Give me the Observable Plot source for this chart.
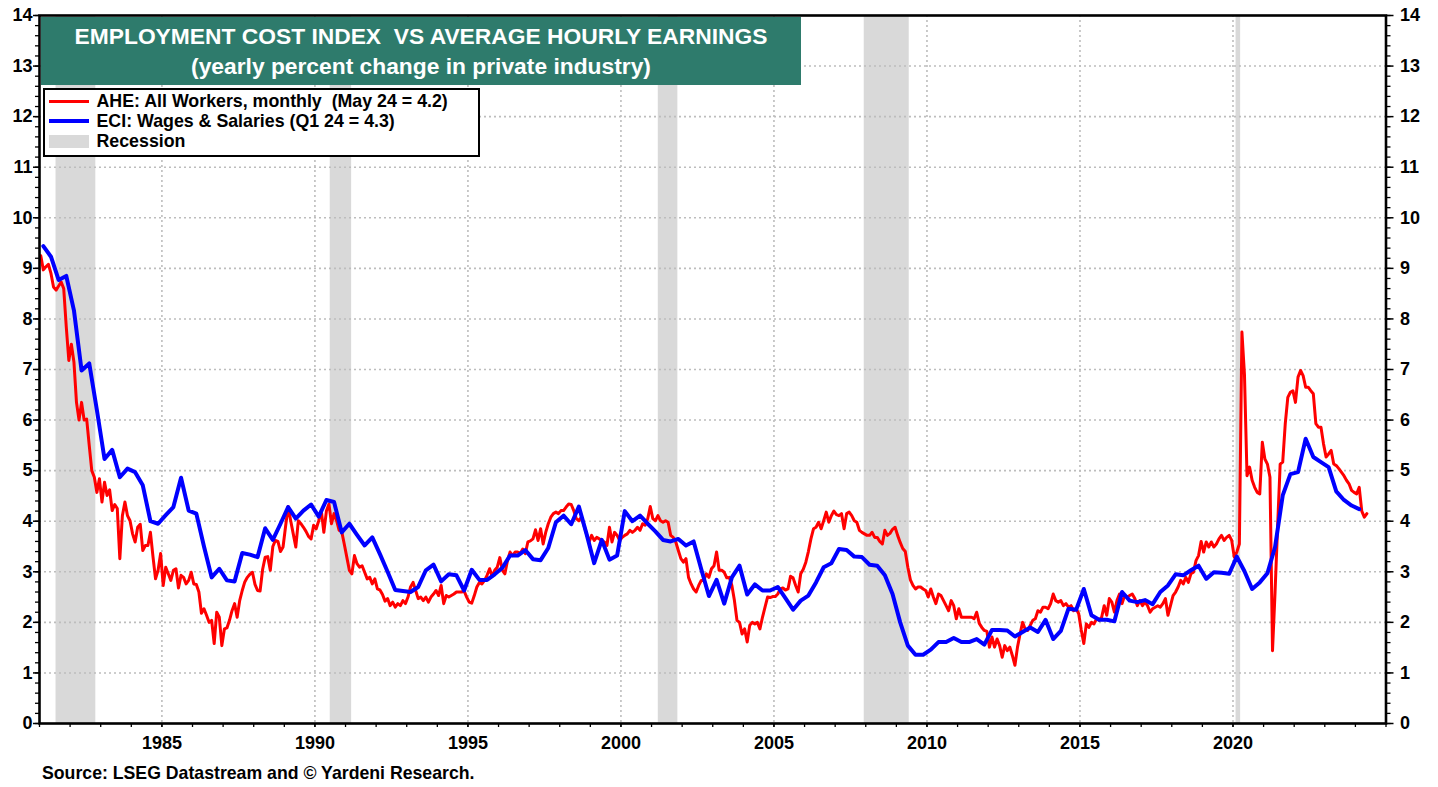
<!DOCTYPE html>
<html>
<head>
<meta charset="utf-8">
<script src="https://cdn.jsdelivr.net/npm/d3@7"></script>
<script src="https://cdn.jsdelivr.net/npm/@observablehq/plot@0.6"></script>
<style>
  html, body { margin: 0; padding: 0; background: #fff; }
  body { font-family: "Liberation Sans", Arial, sans-serif; font-weight: bold; color: #000; }
  #wrap { position: relative; width: 1438px; height: 787px; overflow: hidden; }
  #chart svg { display: block; }
  #titlebox { position: absolute; left: 41px; top: 17px; width: 760px; height: 68px; background: #2e7b6c; }
  .tl { position: absolute; left: 0; width: 760px; text-align: center; color: #fff; font-size: 22.8px; line-height: 26px; white-space: pre; }
  #legend { position: absolute; left: 43px; top: 88px; width: 433px; height: 65px; background: #fff; border: 2px solid #000; }
  .lt { position: absolute; left: 51.5px; font-size: 17.8px; line-height: 20px; white-space: pre; }
  .sw { position: absolute; left: 4px; width: 40px; }
  #caption { position: absolute; left: 42px; top: 762.5px; font-size: 17.7px; line-height: 20px; white-space: pre; }
</style>
</head>
<body>
<div id="wrap">
  <div id="chart"></div>
  <div id="titlebox">
    <div class="tl" style="top:6px">EMPLOYMENT COST INDEX  VS AVERAGE HOURLY EARNINGS</div>
    <div class="tl" style="top:36px">(yearly percent change in private industry)</div>
  </div>
  <div id="legend">
    <div class="sw" style="top:10px;height:3px;background:#ff0000"></div>
    <div class="lt" style="top:1px">AHE: All Workers, monthly  (May 24 = 4.2)</div>
    <div class="sw" style="top:29px;height:4px;background:#0000ff"></div>
    <div class="lt" style="top:21px">ECI: Wages &amp; Salaries (Q1 24 = 4.3)</div>
    <div class="sw" style="top:45px;height:13px;background:#d9d9d9"></div>
    <div class="lt" style="top:41px">Recession</div>
  </div>
  <div id="caption">Source: LSEG Datastream and © Yardeni Research.</div>
</div>
<script>
// ---------- DATA ----------
// Average hourly earnings, all workers, private: yearly % change, monthly from Jan 1981
const ahe1980s = [
  9.25, 8.97, 9.03, 9.08, 8.9, 8.63, 8.57, 8.65, 8.73, 8.6, 7.84, 7.18,   // 1981
  7.5, 7.15, 6.35, 6.0, 6.35, 6.0, 6.02, 5.5, 5.0, 4.87, 4.57, 4.84,      // 1982
  4.38, 4.77, 4.51, 4.62, 4.21, 4.33, 4.25, 3.26, 4.11, 4.38, 4.11, 4.01, // 1983
  3.75, 3.59, 3.88, 3.94, 3.42, 3.52, 3.52, 3.78, 3.3, 2.86, 3.03, 3.36,  // 1984
  2.73, 3.09, 2.96, 2.83, 3.03, 3.06, 2.68, 2.93, 2.89, 2.76, 2.83, 2.99, // 1985
  2.76, 2.75, 2.60, 2.18, 2.27, 2.14, 2.0, 2.04, 1.58, 2.2, 2.1, 1.54,    // 1986
  1.87, 1.89, 2.04, 2.23, 2.37, 2.1, 2.43, 2.63, 2.8, 2.89, 2.95, 2.99,   // 1987
  2.75, 2.63, 2.62, 3.05, 3.29, 3.3, 3.03, 3.5, 3.62, 3.6, 3.4, 3.49,     // 1988
  3.9, 4.29, 4.01, 3.75, 3.49, 4.01, 3.95, 3.88, 3.8, 3.7, 3.65, 3.92     // 1989
];
const ahe1990s = [
  3.85, 4.01, 4.21, 3.78, 4.2, 4.34, 3.95, 4.15, 4.01, 3.82, 3.8, 3.55,   // 1990
  3.29, 3.03, 2.96, 3.32, 3.16, 3.09, 3.12, 2.99, 2.86, 2.89, 2.76, 2.86, // 1991
  2.66, 2.64, 2.55, 2.42, 2.47, 2.33, 2.40, 2.3, 2.37, 2.33, 2.43, 2.37,  // 1992
  2.50, 2.7, 2.79, 2.63, 2.47, 2.50, 2.43, 2.50, 2.40, 2.50, 2.56, 2.63,  // 1993
  2.53, 2.73, 2.37, 2.53, 2.50, 2.53, 2.56, 2.60, 2.60, 2.60, 2.62, 2.50, // 1994
  2.40, 2.38, 2.53, 2.70, 2.79, 2.76, 2.83, 2.93, 3.06, 2.91, 3.03, 3.09, // 1995
  3.28, 3.03, 2.96, 3.22, 3.39, 3.32, 3.39, 3.39, 3.36, 3.45, 3.36, 3.59, // 1996
  3.61, 3.65, 3.83, 3.62, 3.85, 3.55, 3.78, 3.95, 4.08, 4.15, 4.18, 4.15, // 1997
  4.21, 4.21, 4.28, 4.34, 4.33, 4.21, 4.05, 4.01, 4.08, 3.92, 3.75, 3.59, // 1998
  3.72, 3.62, 3.68, 3.65, 3.62, 3.59, 3.52, 3.88, 3.59, 3.78, 3.72, 3.62  // 1999
];
const ahe2000s = [
  3.68, 3.72, 3.75, 3.82, 3.78, 3.82, 3.88, 3.82, 3.95, 3.92, 4.05, 4.29, // 2000
  4.05, 4.01, 4.11, 4.01, 3.98, 4.01, 3.98, 3.72, 3.68, 3.59, 3.42, 3.26, // 2001
  3.19, 3.26, 2.89, 2.76, 2.66, 2.60, 2.73, 2.83, 2.83, 2.96, 2.89, 3.06, // 2002
  3.12, 3.39, 3.03, 3.03, 2.99, 2.88, 2.89, 2.73, 2.43, 2.04, 2.0, 1.77,  // 2003
  1.87, 1.61, 1.94, 2.0, 1.97, 2.0, 1.87, 2.10, 2.30, 2.50, 2.49, 2.51,   // 2004
  2.51, 2.56, 2.66, 2.68, 2.64, 2.66, 2.91, 2.88, 2.73, 2.6, 2.96, 3.05,  // 2005
  3.19, 3.4, 3.65, 3.85, 3.88, 3.98, 3.85, 4.01, 4.18, 3.98, 4.11, 4.20,  // 2006
  4.13, 4.11, 4.15, 3.85, 4.15, 4.18, 4.11, 4.01, 3.98, 3.82, 3.78, 3.75, // 2007
  3.72, 3.72, 3.78, 3.68, 3.68, 3.6, 3.55, 3.82, 3.72, 3.76, 3.84, 3.88,  // 2008
  3.72, 3.58, 3.46, 3.4, 3.09, 2.84, 2.73, 2.66, 2.70, 2.70, 2.66, 2.63   // 2009
];
const ahe2010s = [
  2.50, 2.66, 2.50, 2.37, 2.56, 2.53, 2.43, 2.33, 2.23, 2.43, 2.33, 2.07, // 2010
  2.27, 2.10, 2.10, 2.10, 2.10, 2.10, 2.07, 2.2, 1.98, 1.9, 1.84, 1.82,   // 2011
  1.51, 1.71, 1.51, 1.67, 1.54, 1.31, 1.54, 1.44, 1.51, 1.34, 1.15, 1.51, // 2012
  1.77, 2.0, 1.87, 1.84, 1.94, 2.04, 2.07, 2.23, 2.20, 2.30, 2.30, 2.27,  // 2013
  2.37, 2.56, 2.43, 2.40, 2.43, 2.33, 2.37, 2.30, 2.33, 2.23, 2.27, 2.17, // 2014
  1.85, 1.58, 1.97, 1.90, 2.0, 1.97, 2.07, 2.04, 2.10, 2.33, 2.14, 2.47,  // 2015
  2.40, 2.20, 2.43, 2.56, 2.37, 2.53, 2.50, 2.53, 2.56, 2.47, 2.33, 2.43, // 2016
  2.33, 2.40, 2.33, 2.20, 2.27, 2.30, 2.33, 2.30, 2.37, 2.47, 2.14, 2.33, // 2017
  2.53, 2.60, 2.70, 2.83, 2.76, 2.89, 2.79, 2.96, 2.99, 3.22, 3.32, 3.6,  // 2018
  3.39, 3.59, 3.49, 3.59, 3.49, 3.55, 3.65, 3.72, 3.62, 3.68, 3.72, 3.62  // 2019
];
const ahe2020s = [
  3.29, 3.39, 3.55, 7.74, 6.9, 4.9, 5.07, 4.81, 4.67, 4.57, 4.54, 5.56,   // 2020
  5.23, 5.13, 4.87, 1.44, 2.6, 3.9, 5.13, 5.17, 5.93, 6.45, 6.55, 6.58,   // 2021
  6.35, 6.85, 6.98, 6.88, 6.65, 6.65, 6.58, 6.52, 5.93, 5.86, 5.86, 5.53, // 2022
  5.27, 5.33, 5.40, 5.13, 5.10, 5.04, 4.97, 4.90, 4.81, 4.74, 4.61, 4.57, // 2023
  4.54, 4.67, 4.2, 4.08, 4.15                                            // 2024 (Jan-May)
];

// Employment cost index, wages & salaries, private: yearly % change, quarterly from Q1 1981
const eci1980s = [
  9.44, 9.23, 8.77, 8.85,  8.17, 6.98, 7.12, 6.2,  5.23, 5.41, 4.87, 5.04,
  4.97, 4.71, 4.0, 3.95,   4.12, 4.28, 4.86, 4.21, 4.15, 3.5, 2.89, 3.06,
  2.83, 2.81, 3.37, 3.34,  3.29, 3.86, 3.63, 3.95, 4.28, 4.05, 4.21, 4.33
];
const eci1990s = [
  4.09, 4.42, 4.38, 3.78,  3.95, 3.73, 3.52, 3.68,  3.35, 3.0, 2.64, 2.62,
  2.60, 2.70, 3.03, 3.14,  2.81, 2.95, 2.93, 2.63,  3.04, 2.84, 2.84, 2.95,
  3.08, 3.32, 3.32, 3.43,  3.25, 3.23, 3.47, 3.98,  4.11, 3.94, 4.29, 3.75,
  3.17, 3.63, 3.24, 3.32
];
const eci2000s = [
  4.20, 4.0, 4.11, 3.95,   3.8, 3.63, 3.60, 3.65,   3.52, 3.60, 3.05, 2.52,
  2.84, 2.37, 2.89, 3.12,  2.55, 2.75, 2.63, 2.63,  2.70, 2.48, 2.25, 2.43,
  2.53, 2.79, 3.09, 3.17,  3.45, 3.43, 3.30, 3.29,  3.14, 3.12, 2.93, 2.56,
  2.0, 1.54, 1.36, 1.36
];
const eci2010s = [
  1.46, 1.61, 1.61, 1.69,  1.61, 1.61, 1.67, 1.56,  1.85, 1.85, 1.84, 1.72,
  1.81, 1.90, 1.81, 2.05,  1.67, 1.83, 2.27, 2.25,  2.66, 2.14, 2.05, 2.05,
  2.02, 2.60, 2.43, 2.40,  2.44, 2.36, 2.60, 2.73,  2.95, 2.93, 3.03, 3.12,
  2.86, 2.99, 2.98, 2.96
];
const eci2020s = [
  3.30, 3.01, 2.66, 2.79,  2.97, 3.49, 4.51, 4.93,  4.97, 5.63, 5.27, 5.17,
  5.07, 4.59, 4.42, 4.31,  4.24
];

// Recessions (decimal years)
const recessionStart = [1981.54, 1990.50, 2001.22, 2007.95, 2020.10];
const recessionEnd   = [1982.84, 1991.20, 2001.86, 2009.42, 2020.25];

// Ticks
const yearLabels = [1985, 1990, 1995, 2000, 2005, 2010, 2015, 2020];
const valueLabels = [0, 1, 2, 3, 4, 5, 6, 7, 8, 9, 10, 11, 12, 13, 14];
const gridValues = [1, 2, 3, 4, 5, 6, 7, 8, 9, 10, 11, 12, 13];

// ---------- BUILD TABLES ----------
const aheValues = [...ahe1980s, ...ahe1990s, ...ahe2000s, ...ahe2010s, ...ahe2020s];
const ahe = aheValues.map((v, i) => ({date: 1981 + (i + 0.5) / 12, value: v}));
const eciValues = [...eci1980s, ...eci1990s, ...eci2000s, ...eci2010s, ...eci2020s];
const eci = eciValues.map((v, i) => ({date: 1981 + (3 * i + 1.5) / 12, value: v}));
const recessions = recessionStart.map((s, i) => ({start: s, end: recessionEnd[i]}));
const yearMinor = d3.range(1981, 2026);
const valueMinor = d3.range(0, 70.5).map(k => k / 5);

const font = '"Liberation Sans", Arial, sans-serif';

const chart = Plot.plot({
  width: 1438,
  height: 757,
  marginLeft: 39,
  marginRight: 52.5,
  marginTop: 15,
  marginBottom: 34,
  x: {type: "linear", domain: [1981, 2025]},
  y: {type: "linear", domain: [0, 14]},
  style: {fontFamily: font, fontWeight: "bold", color: "#000", background: "#fff", overflow: "visible"},
  marks: [
    Plot.rect(recessions, {x1: "start", x2: "end", y1: 0, y2: 14, fill: "#d9d9d9"}),
    Plot.gridY(gridValues, {stroke: "#bdbdbd", strokeOpacity: 1, strokeWidth: 1.6, strokeDasharray: "2,3"}),
    Plot.gridX(yearLabels, {stroke: "#bdbdbd", strokeOpacity: 1, strokeWidth: 1.6, strokeDasharray: "2,3"}),
    Plot.line(ahe, {x: "date", y: "value", stroke: "#ff0000", strokeWidth: 3}),
    Plot.line(eci, {x: "date", y: "value", stroke: "#0000ff", strokeWidth: 4}),
    Plot.frame({stroke: "#000", strokeWidth: 2.6}),
    Plot.axisY(valueMinor, {anchor: "left", tickSize: 4, strokeWidth: 1.3, tickFormat: () => "", label: null}),
    Plot.axisY(valueLabels, {anchor: "left", tickSize: 6, tickPadding: 1, strokeWidth: 1.5, fontSize: 18, fontWeight: "bold", tickFormat: d => String(d), label: null}),
    Plot.axisY(valueMinor, {anchor: "right", tickSize: 4, strokeWidth: 1.3, tickFormat: () => "", label: null}),
    Plot.axisY(valueLabels, {anchor: "right", tickSize: 7, tickPadding: 7, strokeWidth: 1.5, fontSize: 18, fontWeight: "bold", tickFormat: d => String(d), label: null}),
    Plot.axisX(yearMinor, {anchor: "bottom", tickSize: 4, strokeWidth: 1.3, tickFormat: () => "", label: null}),
    Plot.axisX(yearLabels, {anchor: "bottom", tickSize: 4, tickPadding: 9, strokeWidth: 1.3, fontSize: 18, fontWeight: "bold", tickFormat: d => String(d), label: null})
  ]
});
document.getElementById("chart").appendChild(chart);
</script>
</body>
</html>
